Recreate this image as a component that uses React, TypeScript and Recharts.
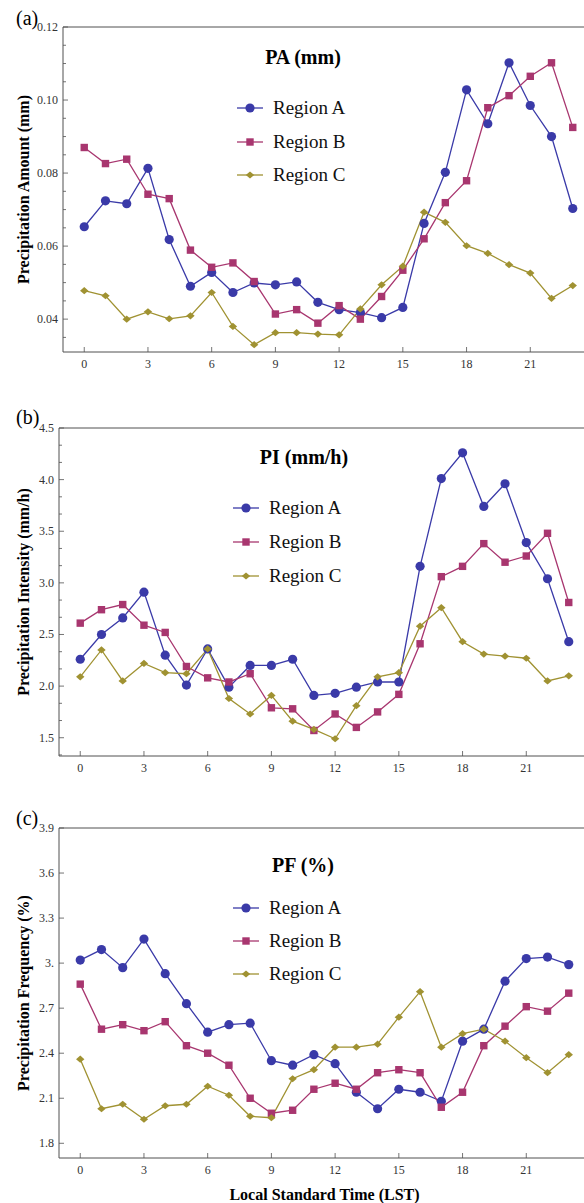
import { LineChart, Line, XAxis, YAxis, Legend, ReferenceLine } from 'recharts'

const hours = [0, 1, 2, 3, 4, 5, 6, 7, 8, 9, 10, 11, 12, 13, 14, 15, 16, 17, 18, 19, 20, 21, 22, 23]
const xTicks = [0, 3, 6, 9, 12, 15, 18, 21]

// (a) precipitation amount (mm)
const paRegionA = [0.0653, 0.0724, 0.0716, 0.0813, 0.0618, 0.049, 0.0528, 0.0473, 0.0499, 0.0494, 0.0502, 0.0446, 0.0426, 0.0418, 0.0404, 0.0432, 0.0662, 0.0802, 0.1028, 0.0935, 0.1102, 0.0985, 0.09, 0.0703]
const paRegionB = [0.087, 0.0826, 0.0838, 0.0742, 0.073, 0.0589, 0.0542, 0.0554, 0.0503, 0.0414, 0.0426, 0.0389, 0.0437, 0.04, 0.0462, 0.0534, 0.062, 0.0719, 0.0779, 0.0979, 0.1012, 0.1065, 0.1102, 0.0925]
const paRegionC = [0.0478, 0.0464, 0.04, 0.042, 0.0401, 0.0409, 0.0473, 0.038, 0.033, 0.0363, 0.0363, 0.0359, 0.0357, 0.0428, 0.0494, 0.0545, 0.0693, 0.0665, 0.0601, 0.058, 0.0549, 0.0526, 0.0457, 0.0492]

// (b) precipitation intensity (mm/h)
const piRegionA = [2.26, 2.5, 2.66, 2.91, 2.3, 2.01, 2.36, 1.99, 2.2, 2.2, 2.26, 1.91, 1.93, 1.99, 2.04, 2.04, 3.16, 4.01, 4.26, 3.74, 3.96, 3.39, 3.04, 2.43]
const piRegionB = [2.61, 2.74, 2.79, 2.59, 2.52, 2.19, 2.08, 2.04, 2.12, 1.79, 1.78, 1.57, 1.73, 1.6, 1.75, 1.92, 2.41, 3.06, 3.16, 3.38, 3.2, 3.26, 3.48, 2.81]
const piRegionC = [2.09, 2.35, 2.05, 2.22, 2.13, 2.12, 2.36, 1.88, 1.73, 1.91, 1.66, 1.58, 1.49, 1.81, 2.09, 2.13, 2.58, 2.76, 2.43, 2.31, 2.29, 2.27, 2.05, 2.1]

// (c) precipitation frequency (%)
const pfRegionA = [3.02, 3.09, 2.97, 3.16, 2.93, 2.73, 2.54, 2.59, 2.6, 2.35, 2.32, 2.39, 2.33, 2.14, 2.03, 2.16, 2.14, 2.08, 2.48, 2.56, 2.88, 3.03, 3.04, 2.99]
const pfRegionB = [2.86, 2.56, 2.59, 2.55, 2.61, 2.45, 2.4, 2.32, 2.1, 2.0, 2.02, 2.16, 2.2, 2.16, 2.27, 2.29, 2.27, 2.04, 2.14, 2.45, 2.58, 2.71, 2.68, 2.8]
const pfRegionC = [2.36, 2.03, 2.06, 1.96, 2.05, 2.06, 2.18, 2.12, 1.98, 1.97, 2.23, 2.29, 2.44, 2.44, 2.46, 2.64, 2.81, 2.44, 2.53, 2.56, 2.48, 2.37, 2.27, 2.39]

const paTicks = [0.04, 0.06, 0.08, 0.1, 0.12]
const paTickLabels = ['0.04', '0.06', '0.08', '0.10', '0.12']
const piTicks = [1.5, 2.0, 2.5, 3.0, 3.5, 4.0, 4.5]
const piTickLabels = ['1.5', '2.0', '2.5', '3.0', '3.5', '4.0', '4.5']
const pfTicks = [1.8, 2.1, 2.4, 2.7, 3.0, 3.3, 3.6, 3.9]
const pfTickLabels = ['1.8', '2.1', '2.4', '2.7', '3.', '3.3', '3.6', '3.9']

const regionNames = ['Region A', 'Region B', 'Region C']

const FONT = '"Liberation Serif", "Times New Roman", serif'
const AXIS = '#505050'
const COLORS = { A: '#3a3aa8', B: '#a8366f', C: '#a09232' }
const SHAPES = { A: 'circle', B: 'square', C: 'diamond' }

function Marker({ shape, cx, cy, color }: any) {
  if (shape === 'circle') return <circle cx={cx} cy={cy} r={4.6} fill={color} />
  if (shape === 'square') return <rect x={cx - 3.7} y={cy - 3.7} width={7.4} height={7.4} fill={color} />
  return <polygon points={`${cx},${cy - 3.6} ${cx + 4.2},${cy} ${cx},${cy + 3.6} ${cx - 4.2},${cy}`} fill={color} />
}

function minorTicks(from: number, to: number, step: number, majors: number[]) {
  const out: number[] = []
  for (let i = 0; from + i * step <= to + 1e-9; i++) {
    const v = from + i * step
    if (!majors.some(m => Math.abs(m - v) < 1e-6)) out.push(v)
  }
  return out
}

function makeYTick(majors: number[], labels: string[]) {
  return (props: any) => {
    const { x, y, payload } = props
    const i = majors.findIndex(m => Math.abs(m - payload.value) < 1e-6)
    return (
      <g>
        <line x1={x} x2={x + (i >= 0 ? 5 : 3)} y1={y} y2={y} stroke={AXIS} strokeWidth={0.8} />
        {i >= 0 && (
          <text x={x - 5} y={y} textAnchor="end" dominantBaseline="central" fontFamily={FONT} fontSize={12} fill="#333">
            {labels[i]}
          </text>
        )}
      </g>
    )
  }
}

function XTick(props: any) {
  const { x, y, payload } = props
  return (
    <g>
      <line x1={x} x2={x} y1={y} y2={y - 5} stroke={AXIS} strokeWidth={0.8} />
      <text x={x} y={y + 12} textAnchor="middle" dominantBaseline="central" fontFamily={FONT} fontSize={12} fill="#333">
        {payload.value}
      </text>
    </g>
  )
}

interface PanelProps {
  top: number
  height: number
  plotTop: number
  plotBottom: number
  plotLeft: number
  xAxisHeight: number
  a: number[]
  b: number[]
  c: number[]
  yDomain: [number, number]
  majors: number[]
  labels: string[]
  minors: number[]
  yTitle: string
  title: string
  titleX: number
  titleY: number
  legendX: number
  legendY: number[]
  tag: string
  tagY: number
  xTitle?: string
}

function Panel(p: PanelProps) {
  const data = hours.map((h, i) => ({ hour: h, A: p.a[i], B: p.b[i], C: p.c[i] }))
  const width = 600
  const plotRight = p.plotLeft + 531
  const rel = (y: number) => y - p.top
  const yMid = (rel(p.plotTop) + rel(p.plotBottom)) / 2
  const ticks = [...p.minors, ...p.majors].sort((u, v) => u - v)

  const legendContent = (props: any) => (
    <div style={{ position: 'relative', fontFamily: FONT, color: '#000' }}>
      <div style={{ position: 'absolute', left: p.titleX - 90, top: rel(p.titleY) - 14, width: 180, textAlign: 'center', fontFamily: FONT, fontSize: 20, fontWeight: 'bold', lineHeight: '28px', whiteSpace: 'nowrap' }}>
        {p.title}
      </div>
      {(props.payload || []).map((entry: any, i: number) => {
        const key = entry.dataKey as 'A' | 'B' | 'C'
        return (
          <div key={key} style={{ position: 'absolute', left: p.legendX, top: rel(p.legendY[i]) - 13, height: 26, display: 'flex', alignItems: 'center', whiteSpace: 'nowrap' }}>
            <svg width={26} height={12} style={{ display: 'block' }}>
              <line x1={0} x2={26} y1={6} y2={6} stroke={COLORS[key]} strokeWidth={1.3} />
              <Marker shape={SHAPES[key]} cx={13} cy={6} color={COLORS[key]} />
            </svg>
            <span style={{ marginLeft: 10, fontFamily: FONT, fontSize: 19, lineHeight: '26px', color: '#111' }}>{entry.value}</span>
          </div>
        )
      })}
    </div>
  )

  return (
    <div style={{ position: 'absolute', left: 0, top: p.top, width, height: p.height }}>
      <div style={{ position: 'absolute', left: 16, top: rel(p.tagY) - 12, fontFamily: FONT, fontSize: 20, lineHeight: '24px' }}>
        {p.tag}
      </div>
      <LineChart
        width={width}
        height={p.height}
        data={data}
        margin={{ top: rel(p.plotTop), right: width - plotRight, left: 0, bottom: p.height - rel(p.plotBottom) - p.xAxisHeight }}
      >
        <XAxis
          dataKey="hour"
          type="number"
          domain={[-1, 24]}
          allowDataOverflow
          ticks={xTicks}
          interval={0}
          height={p.xAxisHeight}
          tickSize={0}
          tickMargin={0}
          tickLine={false}
          axisLine={{ stroke: AXIS, strokeWidth: 1 }}
          tick={XTick}
          label={p.xTitle ? {
            content: () => (
              <text x={(p.plotLeft + plotRight) / 2} y={rel(p.plotBottom) + 36} textAnchor="middle" dominantBaseline="central" fontFamily={FONT} fontSize={16} fontWeight="bold" fill="#000">
                {p.xTitle}
              </text>
            ),
          } : undefined}
        />
        <YAxis
          type="number"
          domain={p.yDomain}
          allowDataOverflow
          ticks={ticks}
          interval={0}
          width={p.plotLeft}
          tickSize={0}
          tickMargin={0}
          tickLine={false}
          axisLine={{ stroke: AXIS, strokeWidth: 1 }}
          tick={makeYTick(p.majors, p.labels)}
          label={{
            content: () => (
              <text x={23} y={yMid} transform={`rotate(-90, 23, ${yMid})`} textAnchor="middle" dominantBaseline="central" fontFamily={FONT} fontSize={16} fontWeight="bold" fill="#000">
                {p.yTitle}
              </text>
            ),
          }}
        />
        <ReferenceLine y={p.yDomain[1]} stroke={AXIS} strokeWidth={1} />
        <Legend
          layout="horizontal"
          verticalAlign="middle"
          align="center"
          wrapperStyle={{ left: 0, top: 0, width: 0, height: 0, overflow: 'visible' }}
          content={legendContent}
        />
        {(['A', 'B', 'C'] as const).map((k, i) => (
          <Line
            key={k}
            dataKey={k}
            name={regionNames[i]}
            stroke={COLORS[k]}
            strokeWidth={1.3}
            isAnimationActive={false}
            activeDot={false}
            dot={(d: any) => <Marker key={`${k}-${d.index}`} shape={SHAPES[k]} cx={d.cx} cy={d.cy} color={COLORS[k]} />}
          />
        ))}
      </LineChart>
    </div>
  )
}

export default function App() {
  return (
    <div style={{ position: 'absolute', left: 0, top: 0, width: 584, height: 1203, overflow: 'hidden', background: '#fff' }}>
      <Panel
        top={0} height={395} plotTop={27} plotBottom={352} plotLeft={63} xAxisHeight={30}
        a={paRegionA} b={paRegionB} c={paRegionC}
        yDomain={[0.031, 0.12]} majors={paTicks} labels={paTickLabels}
        minors={minorTicks(0.035, 0.115, 0.005, paTicks)}
        yTitle="Precipitation Amount (mm)" title="PA (mm)" titleX={303} titleY={57}
        legendX={237} legendY={[108, 142, 175]} tag="(a)" tagY={18}
      />
      <Panel
        top={395} height={400} plotTop={428} plotBottom={756} plotLeft={59} xAxisHeight={30}
        a={piRegionA} b={piRegionB} c={piRegionC}
        yDomain={[1.323, 4.5]} majors={piTicks} labels={piTickLabels}
        minors={minorTicks(4.5 - 19 / 6, 4.5, 1 / 6, piTicks)}
        yTitle="Precipitation Intensity (mm/h)" title="PI (mm/h)" titleX={304} titleY={457}
        legendX={233} legendY={[508, 542, 576]} tag="(b)" tagY={417}
      />
      <Panel
        top={795} height={408} plotTop={828} plotBottom={1158} plotLeft={59} xAxisHeight={45}
        a={pfRegionA} b={pfRegionB} c={pfRegionC}
        yDomain={[1.702, 3.9]} majors={pfTicks} labels={pfTickLabels}
        minors={[]}
        yTitle="Precipitation Frequency (%)" title="PF (%)" titleX={303} titleY={865}
        legendX={233} legendY={[908, 941, 974]} tag="(c)" tagY={818}
        xTitle="Local Standard Time (LST)"
      />
    </div>
  )
}
